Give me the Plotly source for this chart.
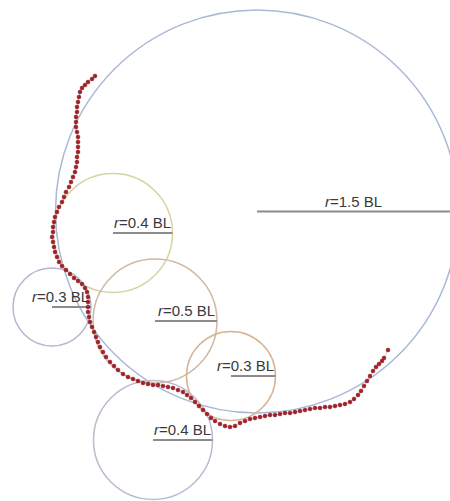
import plotly.graph_objects as go

# Circles (pixel-like data units; y grows downward)
circle_labels = ["1.5", "0.4", "0.5", "0.3", "0.3", "0.4"]
circle_cx = [257, 113, 155, 52, 231, 153]
circle_cy = [211.5, 233, 321, 307, 376, 440]
circle_r = [201.5, 59.5, 62, 39, 44.5, 59.5]
circle_colors = ["#a9b9d6", "#d6d3a0", "#cdb9a3", "#b9b5cf", "#d6b593", "#bdb9cf"]
label_anchor = ["center", "right", "right", "right", "right", "right"]

# Trajectory points
traj_x = [95, 92, 88, 85, 82, 80, 79, 78, 77, 77, 76, 76, 76, 77, 78, 78, 78, 78, 77, 77,
          76, 75, 73, 71, 69, 66, 64, 62, 59, 57, 55, 54, 53, 53, 52, 53, 54, 55, 57, 59,
          62, 66, 70, 74, 78, 82, 85, 87, 88, 88, 88, 88, 89, 90, 92, 94, 96, 98, 100, 103,
          106, 110, 114, 118, 123, 128, 133, 138, 143, 148, 153, 158, 163, 168, 173, 178, 183, 187, 191, 195,
          199, 203, 207, 211, 215, 220, 225, 230, 235, 240, 245, 250, 255, 260, 265, 270, 275, 280, 285, 290,
          295, 300, 305, 310, 315, 320, 325, 330, 335, 340, 345, 350, 354, 358, 361, 364, 367, 370, 373, 376,
          379, 382, 384, 388]
traj_y = [76, 79, 82, 85, 88, 92, 97, 102, 107, 112, 117, 122, 127, 132, 137, 142, 147, 152, 157, 162,
          167, 172, 177, 182, 187, 192, 197, 202, 207, 212, 217, 222, 227, 232, 237, 242, 247, 252, 257, 262,
          266, 270, 274, 278, 281, 284, 288, 292, 297, 302, 307, 312, 317, 322, 327, 332, 337, 342, 347, 352,
          357, 362, 366, 370, 374, 377, 379, 381, 383, 384, 385, 385, 386, 387, 388, 390, 392, 395, 398, 402,
          406, 410, 414, 418, 421, 424, 426, 427, 426, 423, 421, 419, 418, 417, 416, 415, 415, 414, 413, 413,
          412, 411, 410, 409, 408, 408, 407, 407, 406, 405, 404, 402, 399, 395, 391, 386, 381, 376, 371, 367,
          364, 361, 358, 350]

W, H = 450, 501

fig = go.Figure()

shapes = []
for cx, cy, r, col in zip(circle_cx, circle_cy, circle_r, circle_colors):
    shapes.append(dict(type="circle", xref="x", yref="y",
                       x0=cx - r, x1=cx + r, y0=cy - r, y1=cy + r,
                       line=dict(color=col, width=1.5), layer="below"))

# radius lines
for cx, cy, r in zip(circle_cx, circle_cy, circle_r):
    fig.add_trace(go.Scatter(x=[cx, min(cx + r, W)], y=[cy, cy], mode="lines",
                             line=dict(color="#8c8c8c", width=2),
                             hoverinfo="skip", showlegend=False))

fig.add_trace(go.Scatter(x=traj_x, y=traj_y, mode="lines+markers",
                         line=dict(color="rgba(200,80,80,0.45)", width=0.8),
                         marker=dict(symbol="circle", size=4, color="#a81e26",
                                     line=dict(color="#7a1a1e", width=0.4)),
                         hoverinfo="skip", showlegend=False))

annotations = []
for lab, cx, cy, r, anc in zip(circle_labels, circle_cx, circle_cy, circle_r, label_anchor):
    if anc == "center":
        ax = cx + r / 2 - 4
    else:
        ax = cx + r
    annotations.append(dict(x=ax, y=cy, xref="x", yref="y",
                            text="<i>r</i>=" + lab + " BL", showarrow=False,
                            xanchor=anc, yanchor="bottom", yshift=0,
                            font=dict(family="Liberation Sans, Arial", size=15, color="#3a3a3a")))

fig.update_layout(
    width=W, height=H, autosize=False,
    margin=dict(l=0, r=0, t=0, b=0),
    paper_bgcolor="white", plot_bgcolor="white",
    shapes=shapes, annotations=annotations,
    xaxis=dict(range=[0, W], visible=False, fixedrange=True),
    yaxis=dict(range=[H, 0], visible=False, fixedrange=True),
    showlegend=False,
)

fig.write_html("out.html", config={"displayModeBar": False},
               post_script="document.body.style.margin='0';document.body.style.overflow='hidden';")
